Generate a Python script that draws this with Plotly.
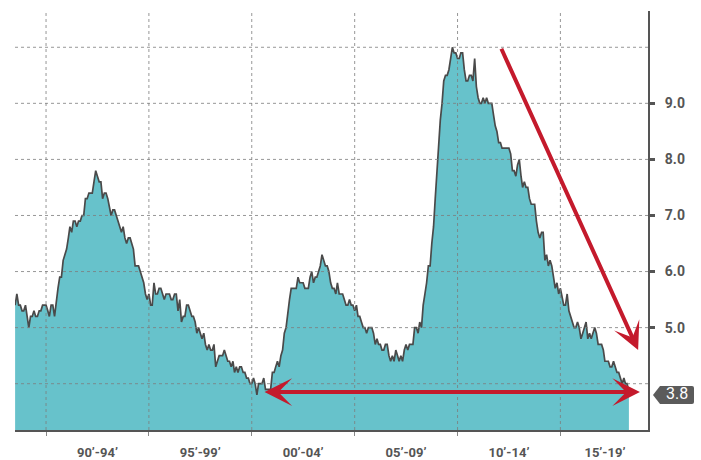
import pandas as pd
import plotly.graph_objects as go

# Monthly unemployment rate (%), July 1988 through May 2018
rate_1988_1989 = [
    5.4, 5.6, 5.4, 5.4, 5.3, 5.3,
    5.4, 5.2, 5.0, 5.2, 5.2, 5.3, 5.2, 5.2, 5.3, 5.3, 5.4, 5.4,
]
rate_1990s = [
    5.4, 5.3, 5.2, 5.4, 5.4, 5.2, 5.5, 5.7, 5.9, 5.9, 6.2, 6.3,
    6.4, 6.6, 6.8, 6.7, 6.9, 6.9, 6.8, 6.9, 6.9, 7.0, 7.0, 7.3,
    7.3, 7.4, 7.4, 7.4, 7.6, 7.8, 7.7, 7.6, 7.6, 7.3, 7.4, 7.4,
    7.3, 7.1, 7.0, 7.1, 7.1, 7.0, 6.9, 6.8, 6.7, 6.8, 6.6, 6.5,
    6.6, 6.6, 6.5, 6.4, 6.1, 6.1, 6.1, 6.0, 5.9, 5.8, 5.6, 5.5,
    5.6, 5.4, 5.4, 5.8, 5.6, 5.6, 5.7, 5.7, 5.6, 5.5, 5.6, 5.6,
    5.6, 5.5, 5.5, 5.6, 5.6, 5.3, 5.5, 5.1, 5.2, 5.2, 5.4, 5.4,
    5.3, 5.2, 5.2, 5.1, 4.9, 5.0, 4.9, 4.8, 4.9, 4.7, 4.6, 4.7,
    4.6, 4.6, 4.7, 4.3, 4.4, 4.5, 4.5, 4.5, 4.6, 4.5, 4.4, 4.4,
    4.3, 4.4, 4.2, 4.3, 4.2, 4.3, 4.3, 4.2, 4.2, 4.1, 4.1, 4.0,
]
rate_2000s = [
    4.0, 4.1, 4.0, 3.8, 4.0, 4.0, 4.0, 4.1, 3.9, 3.9, 3.9, 3.9,
    4.2, 4.2, 4.3, 4.4, 4.3, 4.5, 4.6, 4.9, 5.0, 5.3, 5.5, 5.7,
    5.7, 5.7, 5.7, 5.9, 5.8, 5.8, 5.8, 5.7, 5.7, 5.7, 5.9, 6.0,
    5.8, 5.9, 5.9, 6.0, 6.1, 6.3, 6.2, 6.1, 6.1, 6.0, 5.8, 5.7,
    5.7, 5.6, 5.8, 5.6, 5.6, 5.6, 5.5, 5.4, 5.4, 5.5, 5.4, 5.4,
    5.3, 5.4, 5.2, 5.2, 5.1, 5.0, 5.0, 4.9, 5.0, 5.0, 5.0, 4.9,
    4.7, 4.8, 4.7, 4.7, 4.6, 4.6, 4.7, 4.7, 4.5, 4.4, 4.5, 4.4,
    4.6, 4.5, 4.4, 4.5, 4.4, 4.6, 4.7, 4.6, 4.7, 4.7, 4.7, 5.0,
    5.0, 4.9, 5.1, 5.0, 5.4, 5.6, 5.8, 6.1, 6.1, 6.5, 6.8, 7.3,
    7.8, 8.3, 8.7, 9.0, 9.4, 9.5, 9.5, 9.6, 9.8, 10.0, 9.9, 9.9,
]
rate_2010s = [
    9.8, 9.8, 9.9, 9.9, 9.6, 9.4, 9.4, 9.5, 9.5, 9.4, 9.8, 9.3,
    9.1, 9.0, 9.0, 9.1, 9.0, 9.1, 9.0, 9.0, 9.0, 8.8, 8.6, 8.5,
    8.3, 8.3, 8.2, 8.2, 8.2, 8.2, 8.2, 8.1, 7.8, 7.8, 7.7, 7.9,
    8.0, 7.7, 7.5, 7.6, 7.5, 7.5, 7.3, 7.2, 7.2, 7.2, 6.9, 6.7,
    6.6, 6.7, 6.7, 6.2, 6.3, 6.1, 6.2, 6.1, 5.9, 5.7, 5.8, 5.6,
    5.7, 5.5, 5.4, 5.4, 5.6, 5.3, 5.2, 5.1, 5.0, 5.0, 5.1, 5.0,
    4.8, 4.9, 5.0, 5.1, 4.8, 4.9, 4.8, 4.9, 5.0, 4.9, 4.7, 4.7,
    4.7, 4.6, 4.4, 4.4, 4.4, 4.3, 4.3, 4.4, 4.3, 4.2, 4.2, 4.1,
    4.0, 4.1, 4.0, 4.0, 3.8,
]

rates = rate_1988_1989 + rate_1990s + rate_2000s + rate_2010s
months = pd.date_range("1988-07-01", periods=len(rates), freq="MS")

# Axis labels and reference lines
period_labels = ["90’-94’", "95’-99’", "00’-04’", "05’-09’", "10’-14’", "15’-19’"]
period_label_dates = ["1992-07-01", "1997-07-01", "2002-07-01", "2007-07-01",
                      "2012-07-01", "2017-03-01"]
grid_years = ["1990-01-01", "1995-01-01", "2000-01-01", "2005-01-01",
              "2010-01-01", "2015-01-01"]
grid_levels = [4, 5, 6, 7, 8, 9, 10]
labelled_levels = [5, 6, 7, 8, 9]

x_range = ["1988-06-29", "2019-04-05"]
y_range = [3.174, 10.647]

FILL = "#67c2cb"
LINE = "#4a4a4a"
AXIS = "#555555"
RED = "#c41a2c"
GRID = "rgba(125,125,125,0.8)"
FONT = "Roboto, sans-serif"

fig = go.Figure()
fig.add_trace(go.Scatter(
    x=months, y=rates, mode="lines", fill="tozeroy",
    fillcolor=FILL, line=dict(color=LINE, width=1.7),
    hoverinfo="skip", showlegend=False,
))

# Dashed grid drawn over the filled area
for d in grid_years:
    fig.add_shape(type="line", xref="x", yref="paper", x0=d, x1=d, y0=0, y1=0.998,
                  line=dict(color=GRID, width=1, dash="3px,3px"), layer="above")
for v in grid_levels:
    fig.add_shape(type="line", xref="paper", yref="y", x0=0, x1=1, y0=v, y1=v,
                  line=dict(color=GRID, width=1, dash="3px,3px"), layer="above")

# Red trend arrows
fig.add_annotation(x="2018-11-13", y=3.85, ax="2000-07-19", ay=3.85,
                   xref="x", yref="y", axref="x", ayref="y", text="",
                   showarrow=True, arrowside="end+start", arrowhead=3, startarrowhead=3,
                   arrowsize=1.15, startarrowsize=1.15, arrowwidth=4, arrowcolor=RED)
fig.add_annotation(x="2018-10-12", y=4.60, ax="2012-02-06", ay=10.0,
                   xref="x", yref="y", axref="x", ayref="y", text="",
                   showarrow=True, arrowhead=3, arrowsize=1.15, arrowwidth=4, arrowcolor=RED)

# Latest-value tag on the right axis
last = rates[-1]
last_paper = (last - y_range[0]) / (y_range[1] - y_range[0])
fig.add_shape(type="path", xref="paper", yref="paper",
              xsizemode="pixel", ysizemode="pixel", xanchor=1, yanchor=last_paper,
              path="M 5,0 L 12,9 L 44,9 Q 46,9 46,7 L 46,-7 Q 46,-9 44,-9 L 12,-9 Z",
              fillcolor="#5b5b5b", line=dict(width=0), layer="above")
fig.add_annotation(x=1, y=last, xref="paper", yref="y", xanchor="center", yanchor="middle",
                   xshift=29, yshift=1, text=f"{last:.1f}", showarrow=False,
                   font=dict(family=FONT, size=16, color="white"))

fig.update_layout(
    template="none",
    width=701, height=460,
    margin=dict(l=15, r=53, t=11, b=30, autoexpand=False),
    paper_bgcolor="white", plot_bgcolor="white",
    showlegend=False,
    xaxis=dict(
        type="date", range=x_range, automargin=False,
        tickmode="array", tickvals=period_label_dates, ticktext=period_labels,
        ticks="", showgrid=False, zeroline=False,
        showline=True, linecolor=AXIS, linewidth=2,
        tickfont=dict(family=FONT, size=13, color=AXIS, weight="bold"),
        ticklabelstandoff=9,
        minor=dict(tickmode="array", tickvals=grid_years, ticks="outside",
                   ticklen=4, tickwidth=1, tickcolor="#888888", showgrid=False),
    ),
    yaxis=dict(
        side="right", range=y_range, automargin=False,
        tickmode="array", tickvals=labelled_levels,
        ticktext=[f"{v:.1f}" for v in labelled_levels],
        ticks="outside", ticklen=5, tickwidth=3, tickcolor=AXIS,
        showgrid=False, zeroline=False,
        showline=True, linecolor=AXIS, linewidth=2,
        tickfont=dict(family=FONT, size=14, color=AXIS, weight="bold"),
        ticklabelstandoff=7,
    ),
)

fig.write_html("out.html")
